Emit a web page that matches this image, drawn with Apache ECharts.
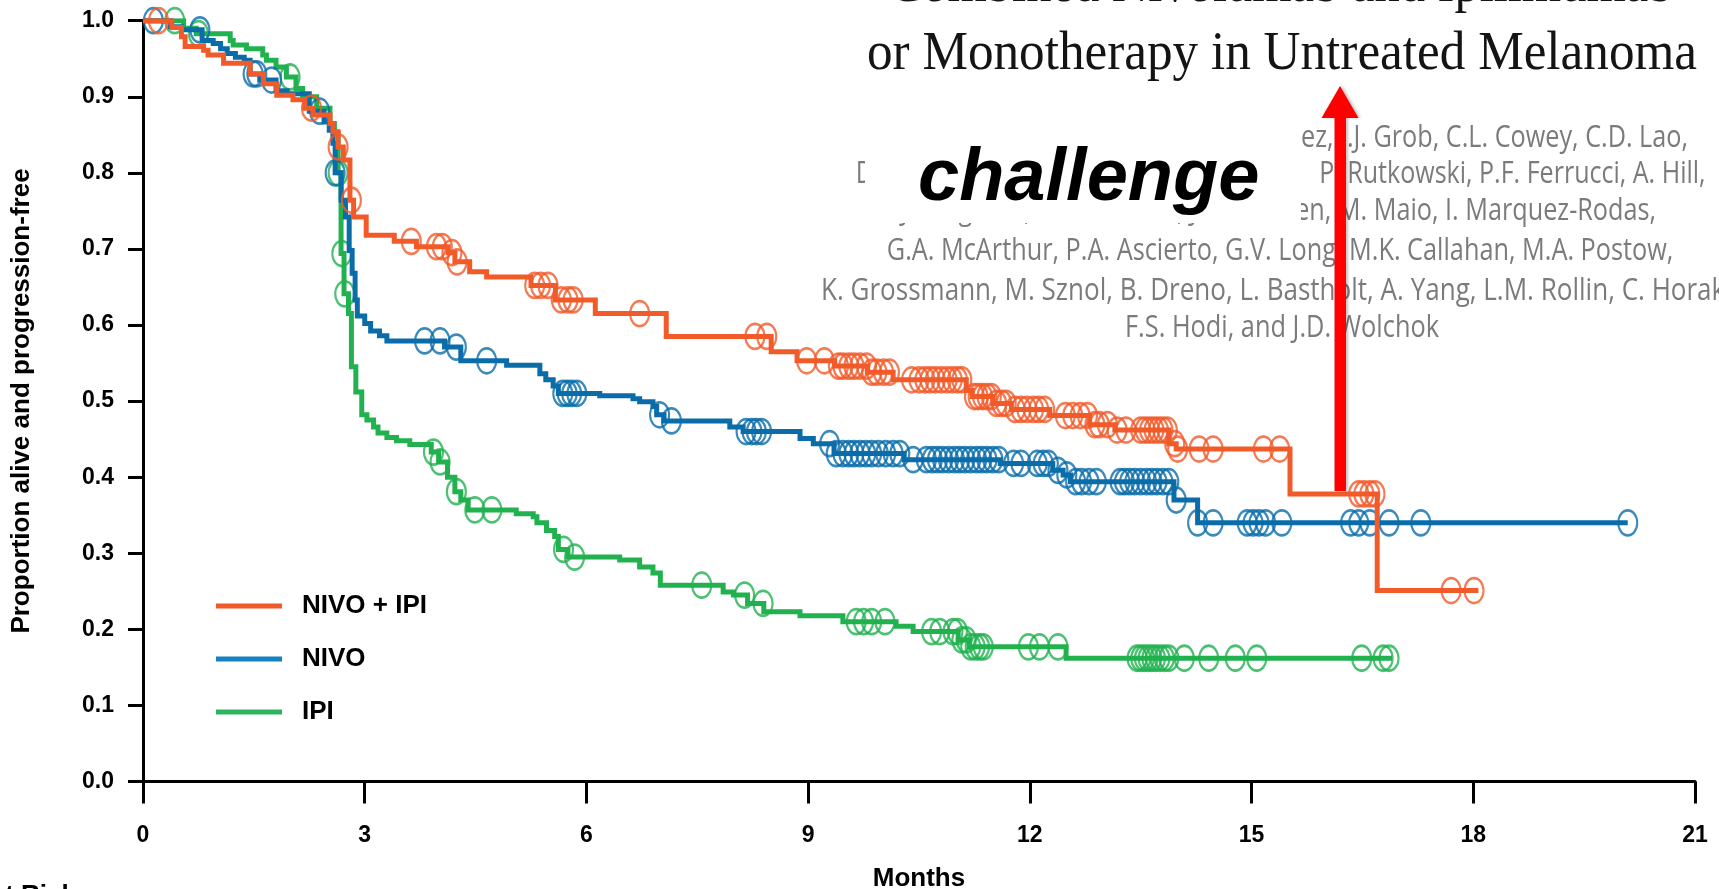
<!DOCTYPE html>
<html>
<head>
<meta charset="utf-8">
<script src="https://cdn.jsdelivr.net/npm/echarts@6/dist/echarts.min.js"></script>
<style>
  html, body { margin: 0; padding: 0; background: #fff; }
  #chart { width: 1719px; height: 889px; }
</style>
</head>
<body>
<div id="chart"></div>
<script>
// Kaplan-Meier steps for progression-free survival: [month, proportion from that month on]
const nivoIpiSteps = [
  [0, 1.000], [0.39, 0.991], [0.52, 0.979], [0.57, 0.966], [0.82, 0.961], [0.88, 0.955],
  [1.09, 0.944], [1.45, 0.930], [1.63, 0.917], [1.81, 0.902], [2.03, 0.896], [2.19, 0.885],
  [2.30, 0.876], [2.53, 0.865], [2.57, 0.854], [2.64, 0.834], [2.71, 0.817], [2.80, 0.764],
  [2.85, 0.742], [3.02, 0.718], [3.40, 0.710], [3.70, 0.703], [4.13, 0.695], [4.22, 0.683],
  [4.42, 0.670], [4.65, 0.663], [5.25, 0.652], [5.58, 0.633], [6.12, 0.615], [7.08, 0.585],
  [8.50, 0.565], [8.85, 0.553], [9.36, 0.546], [9.80, 0.538], [10.15, 0.528], [11.14, 0.514],
  [11.22, 0.506], [11.50, 0.497], [11.75, 0.489], [12.27, 0.481], [12.81, 0.469], [13.15, 0.462],
  [13.88, 0.444], [13.98, 0.437], [15.52, 0.378], [16.70, 0.251], [18.07, 0.251]
];
const nivoSteps = [
  [0, 1.000], [0.37, 0.992], [0.52, 0.988], [0.80, 0.974], [0.95, 0.970], [1.05, 0.963],
  [1.14, 0.957], [1.25, 0.952], [1.37, 0.948], [1.45, 0.930], [1.58, 0.922], [1.80, 0.908],
  [1.95, 0.904], [2.25, 0.881], [2.45, 0.867], [2.52, 0.856], [2.57, 0.839], [2.60, 0.800],
  [2.68, 0.764], [2.74, 0.742], [2.79, 0.698], [2.83, 0.668], [2.87, 0.633], [2.90, 0.612],
  [3.00, 0.602], [3.08, 0.592], [3.20, 0.586], [3.30, 0.579], [4.08, 0.571], [4.30, 0.553],
  [4.92, 0.547], [5.37, 0.536], [5.45, 0.528], [5.55, 0.520], [5.62, 0.510], [6.18, 0.507],
  [6.63, 0.503], [6.72, 0.499], [6.90, 0.493], [6.95, 0.482], [7.05, 0.474], [7.94, 0.466],
  [8.12, 0.460], [8.89, 0.451], [9.07, 0.444], [9.35, 0.431], [10.30, 0.423], [11.60, 0.418],
  [12.31, 0.409], [12.45, 0.403], [12.55, 0.394], [13.95, 0.370], [14.27, 0.340], [20.09, 0.340]
];
const ipiSteps = [
  [0, 1.000], [0.55, 0.990], [0.72, 0.983], [1.18, 0.974], [1.22, 0.968], [1.40, 0.963],
  [1.62, 0.955], [1.67, 0.948], [1.80, 0.939], [1.94, 0.926], [2.07, 0.911], [2.16, 0.900],
  [2.35, 0.885], [2.53, 0.865], [2.59, 0.852], [2.64, 0.800], [2.68, 0.694], [2.72, 0.641],
  [2.78, 0.615], [2.82, 0.545], [2.88, 0.512], [2.96, 0.482], [3.03, 0.475], [3.12, 0.466],
  [3.18, 0.458], [3.30, 0.452], [3.43, 0.448], [3.61, 0.443], [3.90, 0.433], [4.00, 0.420],
  [4.12, 0.400], [4.22, 0.381], [4.30, 0.370], [4.40, 0.357], [5.05, 0.352], [5.28, 0.348],
  [5.33, 0.340], [5.46, 0.330], [5.57, 0.322], [5.62, 0.305], [5.75, 0.295], [6.45, 0.291],
  [6.72, 0.282], [6.90, 0.274], [7.00, 0.258], [7.85, 0.249], [7.99, 0.245], [8.18, 0.234],
  [8.40, 0.223], [8.89, 0.218], [9.47, 0.210], [10.19, 0.204], [10.42, 0.197], [11.03, 0.186],
  [11.18, 0.177], [12.49, 0.162], [16.90, 0.162]
];

// Censored patients (months of last follow-up)
const nivoIpiCensored = [
  0.21, 2.28, 2.64, 2.82, 3.63, 3.97, 4.05, 4.18, 4.25, 5.30, 5.38, 5.48, 5.66, 5.75, 5.82, 6.72,
  8.28, 8.44, 8.98, 9.22, 9.41, 9.47, 9.55, 9.62, 9.70, 9.79, 9.86, 9.93, 10.02, 10.10, 10.40,
  10.50, 10.58, 10.65, 10.72, 10.80, 10.88, 10.95, 11.02, 11.08, 11.25, 11.30, 11.36, 11.42,
  11.48, 11.55, 11.62, 11.68, 11.80, 11.88, 11.96, 12.05, 12.12, 12.20, 12.48, 12.58, 12.68,
  12.78, 12.88, 12.94, 13.05, 13.18, 13.30, 13.50, 13.56, 13.62, 13.68, 13.74, 13.80, 13.86,
  13.96, 14.00, 14.29, 14.48, 15.16, 15.38, 16.45, 16.52, 16.60, 16.67, 17.70, 18.01
];
const nivoCensored = [
  0.14, 0.77, 1.49, 1.54, 1.74, 2.39, 2.60, 3.81, 4.02, 4.24, 4.65, 5.68, 5.74, 5.80, 5.87,
  6.99, 7.15, 8.16, 8.24, 8.30, 8.37, 9.29, 9.38, 9.47, 9.55, 9.62, 9.70, 9.78, 9.86, 9.95,
  10.05, 10.15, 10.24, 10.42, 10.60, 10.68, 10.75, 10.82, 10.90, 10.98, 11.05, 11.12, 11.20,
  11.28, 11.35, 11.42, 11.50, 11.58, 11.78, 11.88, 12.10, 12.18, 12.25, 12.38, 12.50, 12.62,
  12.70, 12.80, 12.90, 13.22, 13.28, 13.35, 13.42, 13.50, 13.58, 13.65, 13.72, 13.80, 13.88,
  13.98, 14.27, 14.48, 14.94, 15.02, 15.10, 15.19, 15.41, 16.34, 16.45, 16.60, 16.86, 17.29, 20.09
];
const ipiCensored = [
  0.43, 0.75, 1.99, 2.64, 2.69, 2.73, 3.93, 4.02, 4.24, 4.49, 4.72, 5.69, 5.84, 7.56, 8.14,
  8.39, 9.65, 9.75, 9.86, 10.04, 10.67, 10.78, 10.96, 11.02, 11.08, 11.14, 11.20, 11.26, 11.32,
  11.37, 11.98, 12.13, 12.38, 13.45, 13.50, 13.55, 13.60, 13.65, 13.70, 13.76, 13.82, 13.88,
  14.09, 14.42, 14.78, 15.07, 16.49, 16.78, 16.86
];

const armNames = ['NIVO + IPI', 'NIVO', 'IPI'];
const monthAxis = { min: 0, max: 21, step: 3 };
const proportionAxis = { min: 0, max: 1, step: 0.1 };

const COLORS = { combo: '#F15A29', nivo: '#0A6DAA', ipi: '#21B14F' };
const SANS = '"Liberation Sans", Arial, Helvetica, sans-serif';

// Survival value of a step curve at a given month
function survivalAt(steps, t) {
  let s = steps[0][1];
  for (const [m, v] of steps) {
    if (m <= t + 1e-9) s = v; else break;
  }
  return s;
}

// Open ellipse used as the censoring mark
const CENSOR_MARK = 'path://M0,12.5A9.5,12.5 0 1,1 19,12.5A9.5,12.5 0 1,1 0,12.5Z';

function curve(name, steps, color, z) {
  return {
    name, type: 'line', step: 'end', data: steps, showSymbol: false, z,
    itemStyle: { color }, lineStyle: { color, width: 5, cap: 'butt', join: 'miter' },
    emphasis: { disabled: true }, silent: true
  };
}
function censors(name, times, steps, color, z) {
  return {
    name, type: 'scatter', z, silent: true,
    data: times.map(t => [t, survivalAt(steps, t)]),
    symbol: CENSOR_MARK, symbolSize: [19, 25],
    itemStyle: { color: 'rgba(0,0,0,0)', borderColor: color, borderWidth: 2.4 },
    emphasis: { disabled: true }
  };
}

// Text measuring for the overlaid article header
const measureCtx = document.createElement('canvas').getContext('2d');
function textWidth(str, font) { measureCtx.font = font; return measureCtx.measureText(str).width; }

const SERIF = '"Liberation Serif", "Times New Roman", serif';
const titleSize = 55;
const titleFont = titleSize + 'px ' + SERIF;
const headerLines = [
  { text: 'Combined Nivolumab and Ipilimumab', cx: 1281, baseline: 0, width: 785 },
  { text: 'or Monotherapy in Untreated Melanoma', cx: 1282, baseline: 68, width: 830 }
];

const AUTHOR_FAMILY = '"Open Sans", "Noto Sans", sans-serif';
const authorSize = 31;
const authorFont = authorSize + 'px ' + AUTHOR_FAMILY;
const authorLines = [
  { text: 'J. Larkin, V. Chiarion-Sileni, R. Gonzalez, J.J. Grob, C.L. Cowey, C.D. Lao,', right: 1688, baseline: 146.7 },
  { text: 'D. Schadendorf, R. Dummer, M. Smylie, P. Rutkowski, P.F. Ferrucci, A. Hill,', left: 855.7, right: 1705.6, baseline: 183 },
  { text: 'J. Wagstaff, M.S. Carlino, J.B. Haanen, M. Maio, I. Marquez-Rodas,', right: 1656, baseline: 220 },
  { text: 'G.A. McArthur, P.A. Ascierto, G.V. Long, M.K. Callahan, M.A. Postow,', left: 886.8, right: 1673.4, baseline: 260 },
  { text: 'K. Grossmann, M. Sznol, B. Dreno, L. Bastholt, A. Yang, L.M. Rollin, C. Horak,', left: 821, right: 1732, baseline: 300 },
  { text: 'F.S. Hodi, and J.D. Wolchok', left: 1125, right: 1439, baseline: 336.7 }
];
// shared horizontal compression from the lines whose both ends are known
const fitted = authorLines.filter(l => l.left != null && l.right != null && l.right < 1719)
  .map(l => (l.right - l.left) / textWidth(l.text, authorFont));
const authorScale = fitted.reduce((a, b) => a + b, 0) / fitted.length;

const graphics = [];
headerLines.forEach(l => {
  const sx = l.width / textWidth(l.text, titleFont);
  graphics.push({
    type: 'text', x: l.cx, y: l.baseline - 0.247 * titleSize, scaleX: sx, z: 50, silent: true,
    style: { text: l.text, fill: '#141414', font: titleFont, align: 'center', verticalAlign: 'middle' }
  });
});
authorLines.forEach(l => {
  const natural = textWidth(l.text, authorFont);
  const sx = (l.left != null && l.right != null) ? (l.right - l.left) / natural : authorScale;
  const left = l.left != null ? l.left : l.right - natural * sx;
  graphics.push({
    type: 'text', x: left, y: l.baseline + 3 - 0.388 * authorSize, scaleX: sx, z: 50, silent: true,
    style: { text: l.text, fill: '#7b7b7b', font: authorFont, align: 'left', verticalAlign: 'middle' }
  });
});
// label box over the author list
graphics.push({
  type: 'rect', shape: { x: 865, y: 110, width: 436, height: 113 }, z: 60, silent: true,
  style: { fill: '#ffffff' }
});
graphics.push({
  type: 'rect', shape: { x: 1300, y: 160, width: 15, height: 34 }, z: 60, silent: true,
  style: { fill: '#ffffff' }
});
const challengeSize = 74;
graphics.push({
  type: 'text', x: 918, y: 198.3 - 0.258 * challengeSize, z: 61, silent: true,
  style: {
    text: 'challenge', fill: '#000', align: 'left', verticalAlign: 'middle',
    font: 'italic bold ' + challengeSize + 'px ' + SANS
  }
});
// red pointer arrow
graphics.push({
  type: 'polygon', z: 62, silent: true,
  shape: { points: [[1334.5, 491], [1334.5, 118], [1321.5, 118], [1340, 86], [1358.5, 118], [1346, 118], [1346, 491]] },
  style: { fill: '#ff0000', shadowColor: 'rgba(0,0,0,0.25)', shadowBlur: 3, shadowOffsetX: 2 }
});
// axis titles
graphics.push({
  type: 'text', x: 22, y: 401, rotation: Math.PI / 2, z: 40, silent: true,
  style: { text: 'Proportion alive and progression-free', fill: '#000', align: 'center', verticalAlign: 'middle',
           font: 'bold 26px ' + SANS }
});
graphics.push({
  type: 'text', x: 919, y: 879, z: 40, silent: true,
  style: { text: 'Months', fill: '#000', align: 'center', verticalAlign: 'middle', font: 'bold 26px ' + SANS }
});
graphics.push({
  type: 'text', x: 76, y: 896, z: 40, silent: true,
  style: { text: 'Patients at Risk', fill: '#000', align: 'right', verticalAlign: 'middle', font: 'bold 26px ' + SANS }
});

const chart = echarts.init(document.getElementById('chart'), null, { renderer: 'canvas' });
chart.setOption({
  animation: false,
  backgroundColor: '#ffffff',
  textStyle: { fontFamily: SANS },
  grid: { left: 143, right: 24, top: 20.7, bottom: 107.5, containLabel: false, outerBoundsMode: 'none' },
  xAxis: {
    type: 'value', min: monthAxis.min, max: monthAxis.max, interval: monthAxis.step,
    axisLine: { show: true, onZero: false, lineStyle: { color: '#000', width: 3 } },
    axisTick: { show: true, length: 22, lineStyle: { color: '#000', width: 3 } },
    axisLabel: { margin: 43, color: '#000', fontSize: 23, fontWeight: 'bold', fontFamily: SANS },
    splitLine: { show: false }
  },
  yAxis: {
    type: 'value', min: proportionAxis.min, max: proportionAxis.max, interval: proportionAxis.step,
    axisLine: { show: true, onZero: false, lineStyle: { color: '#000', width: 3 } },
    axisTick: { show: true, length: 15, lineStyle: { color: '#000', width: 3 } },
    axisLabel: { margin: 29, color: '#000', fontSize: 23, fontWeight: 'bold', fontFamily: SANS,
                 formatter: v => v.toFixed(1) },
    splitLine: { show: false }
  },
  legend: {
    orient: 'vertical', left: 211, top: 588, itemWidth: 66, itemHeight: 5, itemGap: 27,
    icon: 'rect', selectedMode: false,
    data: [
      { name: armNames[0], itemStyle: { color: '#F05A28' } },
      { name: armNames[1], itemStyle: { color: '#1580C2' } },
      { name: armNames[2], itemStyle: { color: '#2DB35E' } }
    ],
    textStyle: { fontSize: 26, fontWeight: 'bold', color: '#000', lineHeight: 26, padding: [0, 0, 0, 15], fontFamily: SANS }
  },
  series: [
    curve(armNames[2], ipiSteps, COLORS.ipi, 2),
    censors('IPI censored', ipiCensored, ipiSteps, COLORS.ipi, 3),
    curve(armNames[1], nivoSteps, COLORS.nivo, 4),
    censors('NIVO censored', nivoCensored, nivoSteps, COLORS.nivo, 5),
    curve(armNames[0], nivoIpiSteps, COLORS.combo, 6),
    censors('NIVO + IPI censored', nivoIpiCensored, nivoIpiSteps, COLORS.combo, 7)
  ],
  graphic: { elements: graphics }
});
</script>
</body>
</html>
